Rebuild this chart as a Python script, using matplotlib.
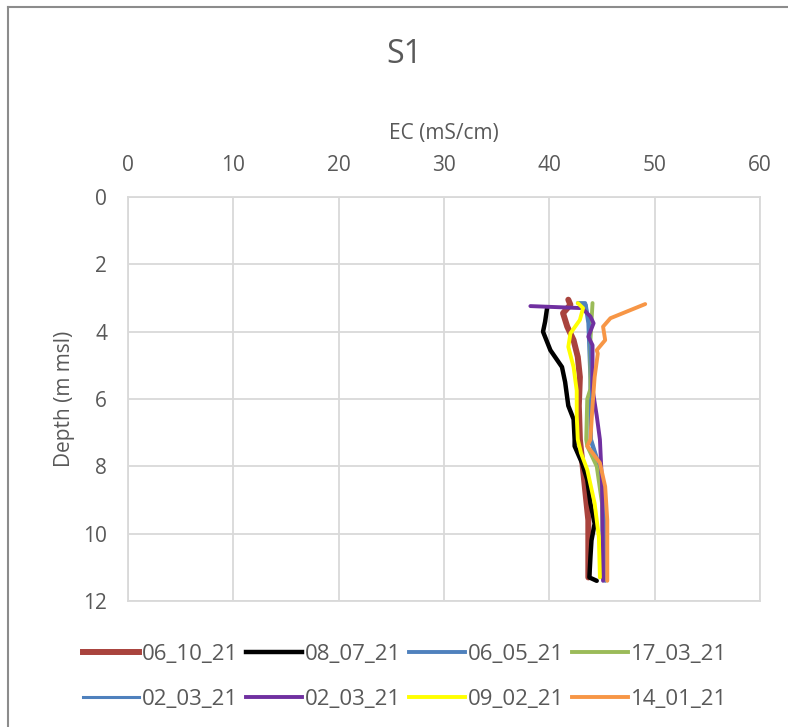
import matplotlib.pyplot as plt
from matplotlib.lines import Line2D

plt.rcParams['font.family'] = ['Open Sans', 'DejaVu Sans']

# depth (m msl) vs EC (mS/cm) profiles
labels = ['06_10_21', '08_07_21', '06_05_21', '17_03_21',
          '02_03_21', '02_03_21', '09_02_21', '14_01_21']

ec_061021 = [41.8, 42.0, 41.3, 41.7, 42.3, 42.7, 42.9, 42.8, 42.9, 43.2, 43.7, 43.7]
d_061021 = [3.05, 3.2, 3.45, 3.85, 4.25, 4.75, 5.35, 6.2, 7.2, 8.1, 9.6, 11.3]

ec_080721 = [39.8, 39.6, 39.4, 40.1, 41.2, 41.5, 41.8, 42.3, 42.4, 42.4, 43.1,
             43.6, 43.9, 44.3, 44.0, 43.9, 43.8, 44.5]
d_080721 = [3.27, 3.7, 4.0, 4.55, 5.05, 5.5, 6.2, 6.6, 7.2, 7.4, 7.9,
            8.4, 9.1, 9.7, 10.2, 10.7, 11.3, 11.4]

ec_060521 = [42.7, 43.4, 43.7, 43.9, 43.9, 44.8, 45.3, 45.3]
d_060521 = [3.15, 3.15, 3.75, 5.45, 7.2, 8.1, 9.6, 11.4]

ec_170321 = [44.1, 43.9, 43.9, 43.6, 43.5, 43.6, 44.5, 45.0, 45.1]
d_170321 = [3.15, 4.25, 5.7, 6.0, 7.2, 7.4, 8.0, 9.1, 11.3]

ec_020321a = [43.0, 43.5, 43.8, 44.0, 44.0, 44.9, 45.3, 45.3]
d_020321a = [3.2, 3.2, 3.8, 5.5, 7.2, 8.1, 9.6, 11.4]

ec_020321b = [38.2, 43.1, 43.9, 44.2, 43.7, 44.1, 44.1, 44.5, 44.8, 45.0, 45.1]
d_020321b = [3.24, 3.3, 3.55, 3.75, 4.15, 4.4, 5.7, 6.5, 7.2, 8.5, 11.4]

ec_090221 = [42.7, 43.2, 42.9, 42.0, 41.8, 42.3, 42.6, 42.6, 42.7, 43.0,
             43.6, 44.3, 44.7, 44.8]
d_090221 = [3.15, 3.3, 3.65, 4.05, 4.45, 5.05, 5.75, 6.5, 7.2, 7.6,
            8.1, 9.1, 10.1, 11.3]

ec_140121 = [49.1, 45.8, 45.1, 45.3, 44.5, 44.6, 44.3, 44.1, 43.9, 43.6,
             44.1, 44.8, 45.3, 45.5, 45.5]
d_140121 = [3.18, 3.6, 3.85, 4.25, 4.55, 4.65, 5.35, 6.2, 7.2, 7.4,
            7.6, 7.9, 8.6, 9.6, 11.4]

series = [(ec_061021, d_061021), (ec_080721, d_080721), (ec_060521, d_060521),
          (ec_170321, d_170321), (ec_020321a, d_020321a), (ec_020321b, d_020321b),
          (ec_090221, d_090221), (ec_140121, d_140121)]
colors = ['#A9433D', '#000000', '#4F81BD', '#9BBB59',
          '#4F81BD', '#7030A0', '#FFFF00', '#F79646']
widths = [4.3, 3.2, 2.8, 2.8, 2.2, 2.8, 2.8, 2.8]

txt = '#595959'
grid = '#D9D9D9'

fig = plt.figure(figsize=(7.88, 7.27), dpi=100)
ax = fig.add_axes([0.1624, 0.1733, 0.8021, 0.5557])

for (ec, d), c, lw, lab in zip(series, colors, widths, labels):
    ax.plot(ec, d, color=c, lw=lw, label=lab, solid_capstyle='round',
            solid_joinstyle='round')

ax.set_xlim(0, 60)
ax.set_ylim(12, 0)
ax.set_xticks(range(0, 61, 10))
ax.set_yticks(range(0, 13, 2))
ax.xaxis.tick_top()
ax.xaxis.set_label_position('top')
ax.tick_params(length=0, labelsize=15, colors=txt, pad=15)
ax.grid(True, color=grid, lw=1.3)
for s in ax.spines.values():
    s.set_color(grid)
    s.set_linewidth(1.3)
ax.set_axisbelow(True)

ax.set_xlabel('EC (mS/cm)', fontsize=15, color=txt, labelpad=12)
ax.set_ylabel('Depth (m msl)', fontsize=15, color=txt, labelpad=6)
fig.text(0.513, 0.925, 'S1', fontsize=23, color=txt, ha='center', va='center')

# legend fills row by row like the original
handles = [Line2D([], [], color=c, lw=lw) for c, lw in zip(colors, widths)]
order = [0, 4, 1, 5, 2, 6, 3, 7]
fig.legend([handles[i] for i in order], [labels[i] for i in order],
           loc='center', bbox_to_anchor=(0.514, 0.069), ncol=4,
           frameon=False, fontsize=16, labelcolor=txt, handlelength=2.5,
           handletextpad=0.14, columnspacing=0.36, labelspacing=1.1)

# chart border (left and top edges visible)
fig.add_artist(Line2D([0.0105, 0.0105], [0, 0.9905], color='#8C8C8C', lw=1.5,
                      transform=fig.transFigure))
fig.add_artist(Line2D([0.0105, 1.0], [0.9905, 0.9905], color='#8C8C8C', lw=1.5,
                      transform=fig.transFigure))

fig.savefig('out.png', dpi=100)
